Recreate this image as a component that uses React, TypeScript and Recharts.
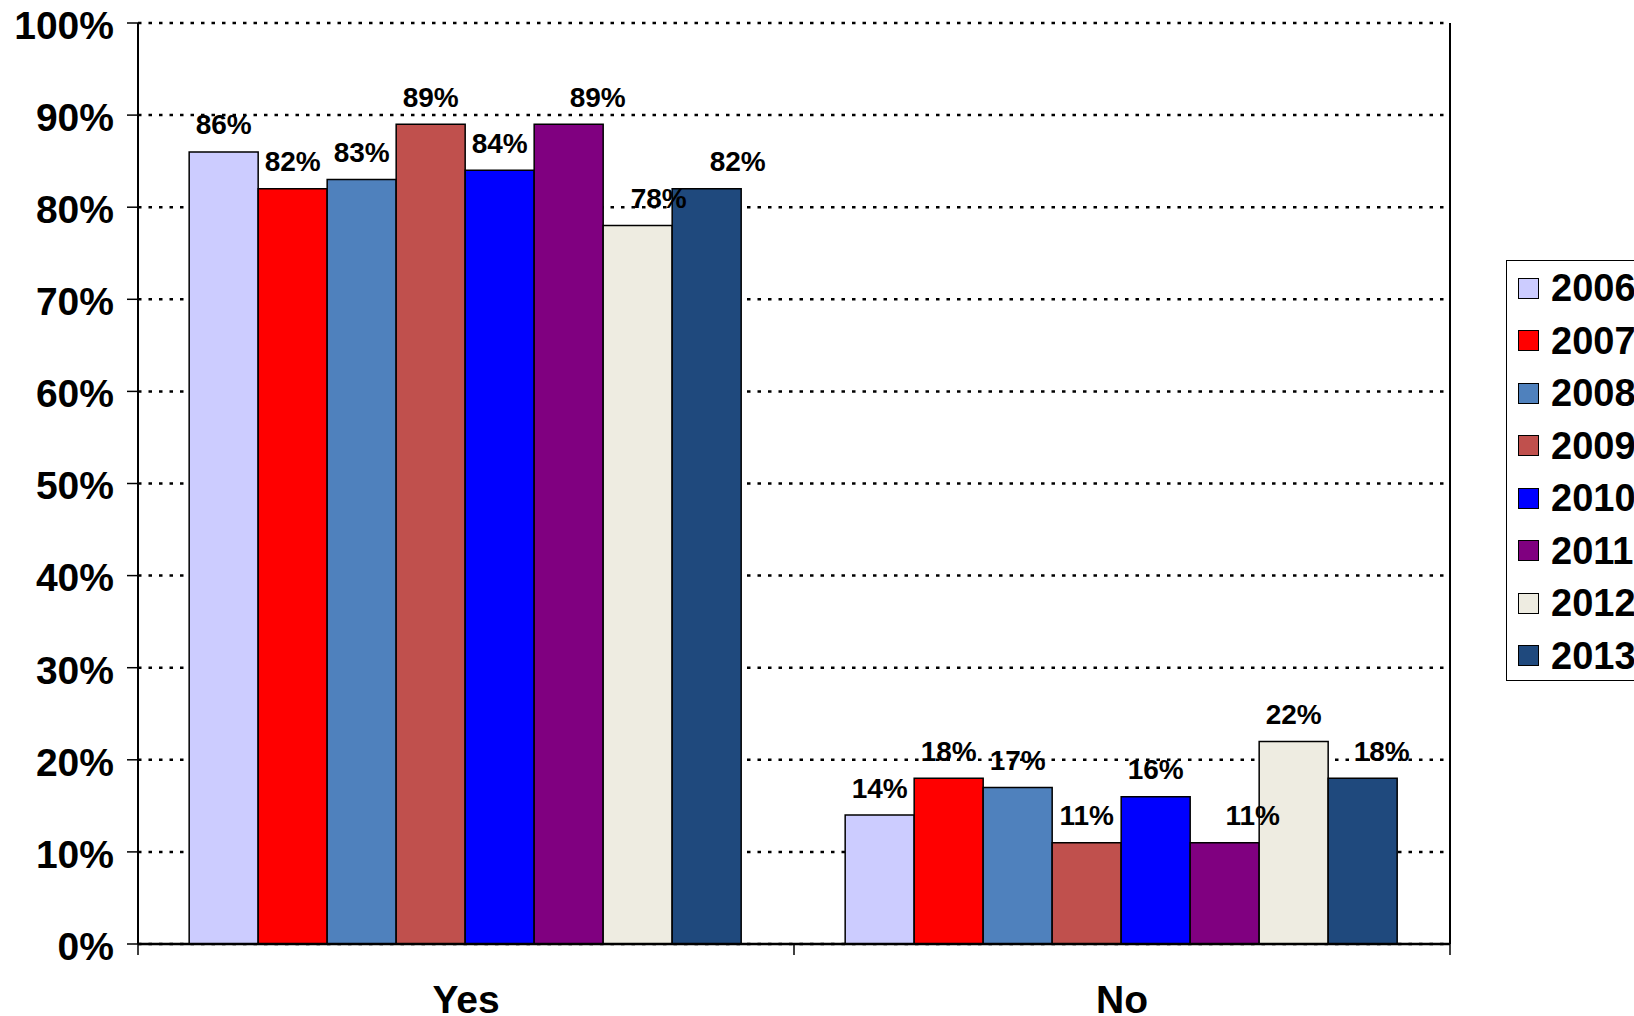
import React from 'react';
import { BarChart, Bar, XAxis, YAxis, CartesianGrid, Legend, LabelList, ReferenceLine } from 'recharts';

const CATEGORIES = ['Yes', 'No'];
const YEARS = ['2006', '2007', '2008', '2009', '2010', '2011', '2012', '2013'];
const V2006 = [86, 14];
const V2007 = [82, 18];
const V2008 = [83, 17];
const V2009 = [89, 11];
const V2010 = [84, 16];
const V2011 = [89, 11];
const V2012 = [78, 22];
const V2013 = [82, 18];
const SERIES_VALUES = [V2006, V2007, V2008, V2009, V2010, V2011, V2012, V2013];
const COLORS = ['#CCCCFF', '#FF0000', '#4F81BD', '#C0504D', '#0000FF', '#800080', '#EEECE1', '#1F497D'];
const Y_TICKS = [0, 10, 20, 30, 40, 50, 60, 70, 80, 90, 100];

const FONT = '"Liberation Sans", Arial, sans-serif';

// manual label nudges (px) as placed in the original
const LABEL_DX: Record<string, number[]> = {
  '2011': [29, 28],
  '2012': [21, 0],
  '2013': [31, 19],
};

const data = CATEGORIES.map((c, i) => {
  const row: any = { category: c };
  YEARS.forEach((yr, k) => {
    row[yr] = SERIES_VALUES[k][i];
  });
  return row;
});

const makeLabel = (year: string) => (props: any) => {
  const { x, y, width, value, index } = props;
  const dx = (LABEL_DX[year] && LABEL_DX[year][index]) || 0;
  return (
    <text
      x={Number(x) + Number(width) / 2 + dx}
      y={Number(y) - 17.5}
      textAnchor="middle"
      fontSize={28}
      fontWeight="bold"
      fontFamily={FONT}
      fill="#000"
    >
      {value}%
    </text>
  );
};

const YTick = (props: any) => {
  const { x, y, payload } = props;
  return (
    <text x={x} y={y + 2} dy="0.355em" textAnchor="end" fontSize={39} fontWeight="bold" fontFamily={FONT} fill="#000">
      {payload.value}%
    </text>
  );
};

const XTick = (props: any) => {
  const { x, y, payload } = props;
  return (
    <text x={x} y={y} dy="0.71em" textAnchor="middle" fontSize={39} fontWeight="bold" fontFamily={FONT} fill="#000">
      {payload.value}
    </text>
  );
};

const renderLegend = (props: any) => {
  const payload = props.payload || [];
  return (
    <div
      style={{
        boxSizing: 'border-box',
        width: 200,
        height: 421,
        border: '1.5px solid #000',
        background: '#fff',
        paddingTop: 1,
      }}
    >
      {payload.map((e: any) => {
        const idx = YEARS.indexOf(String(e.value));
        return (
          <div key={e.value} style={{ height: 52.5, display: 'flex', alignItems: 'center', whiteSpace: 'nowrap' }}>
            <span
              style={{
                display: 'inline-block',
                flex: '0 0 auto',
                width: 21,
                height: 21,
                boxSizing: 'border-box',
                border: '1.5px solid #000',
                background: idx >= 0 ? COLORS[idx] : e.color,
                marginLeft: 11,
                marginRight: 12,
              }}
            />
            <span style={{ fontSize: 38, fontWeight: 'bold', fontFamily: FONT, lineHeight: 1, color: '#000' }}>
              {e.value}
            </span>
          </div>
        );
      })}
    </div>
  );
};

export default function App() {
  return (
    <div
      style={{
        position: 'absolute',
        left: 0,
        top: 0,
        width: 1634,
        height: 1016,
        overflow: 'hidden',
        background: '#fff',
      }}
    >
      <BarChart
        width={1634}
        height={1016}
        data={data}
        margin={{ top: 23, right: 184, bottom: 0, left: 0 }}
        barCategoryGap="7.8%"
        barGap={0}
      >
        <CartesianGrid vertical={false} stroke="#000" strokeWidth={2.5} strokeDasharray="3.5 7" />
        <XAxis
          dataKey="category"
          type="category"
          height={72}
          tickLine={false}
          tickSize={0}
          tickMargin={41}
          axisLine={{ stroke: '#000', strokeWidth: 2.5 }}
          tick={<XTick />}
          interval={0}
        />
        <YAxis
          type="number"
          domain={[0, 100]}
          ticks={Y_TICKS}
          interval={0}
          width={138}
          allowDataOverflow
          tickSize={11}
          tickMargin={13}
          axisLine={{ stroke: '#000', strokeWidth: 2 }}
          tickLine={{ stroke: '#000', strokeWidth: 1.5 }}
          tick={<YTick />}
        />
        {YEARS.map((yr, k) => (
          <Bar
            key={yr}
            dataKey={yr}
            name={yr}
            fill={COLORS[k]}
            stroke="#000"
            strokeWidth={1.5}
            isAnimationActive={false}
          >
            <LabelList dataKey={yr} content={makeLabel(yr)} />
          </Bar>
        ))}
        <ReferenceLine x="No" position="end" stroke="#000" strokeWidth={2} ifOverflow="visible" />
        <ReferenceLine
          segment={[{ x: 'Yes', y: 0 }, { x: 'Yes', y: -1.2 }]}
          position="start"
          ifOverflow="visible"
          stroke="#000"
          strokeWidth={1.5}
        />
        <ReferenceLine
          segment={[{ x: 'No', y: 0 }, { x: 'No', y: -1.2 }]}
          position="start"
          ifOverflow="visible"
          stroke="#000"
          strokeWidth={1.5}
        />
        <ReferenceLine
          segment={[{ x: 'No', y: 0 }, { x: 'No', y: -1.2 }]}
          position="end"
          ifOverflow="visible"
          stroke="#000"
          strokeWidth={1.5}
        />
        <Legend
          layout="vertical"
          align="center"
          verticalAlign="middle"
          wrapperStyle={{ left: 1506, top: 260, width: 200, height: 421 }}
          content={renderLegend}
        />
      </BarChart>
    </div>
  );
}
